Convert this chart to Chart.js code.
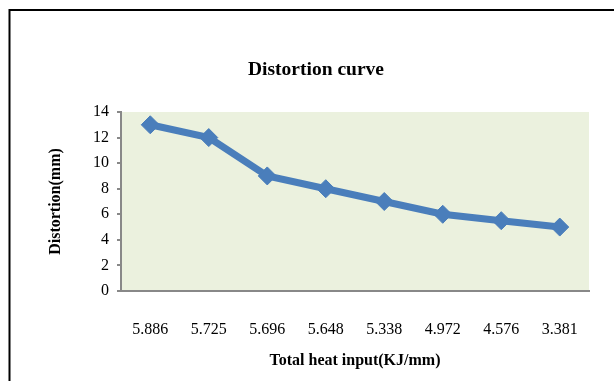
<!DOCTYPE html>
<html>
<head>
<meta charset="utf-8">
<title>Distortion curve</title>
<script src="https://cdn.jsdelivr.net/npm/chart.js@4.4.1/dist/chart.umd.min.js"></script>
<style>
  html, body { margin: 0; padding: 0; background: #fff; }
  canvas { display: block; }
</style>
</head>
<body>
<canvas id="distortionChart" width="614" height="381"></canvas>
<script>
// heat input per run (KJ/mm) and measured distortion (mm)
const heatInputs = ['5.886', '5.725', '5.696', '5.648', '5.338', '4.972', '4.576', '3.381'];
const distortion = [13, 12, 9, 8, 7, 6, 5.5, 5];
const yTicks = [0, 2, 4, 6, 8, 10, 12, 14];

const serif = '"Liberation Serif", "Times New Roman", serif';

// frame, plot background and the chart heading
const framePlugin = {
    id: 'frame',
    beforeDraw(chart) {
        const { ctx, chartArea } = chart;
        ctx.save();
        ctx.fillStyle = '#ffffff';
        ctx.fillRect(0, 0, chart.width, chart.height);
        ctx.fillStyle = '#EBF1DE';
        ctx.fillRect(chartArea.left, chartArea.top, chartArea.right - chartArea.left, chartArea.bottom - chartArea.top);
        ctx.strokeStyle = '#000';
        ctx.lineWidth = 2;
        ctx.beginPath();
        ctx.moveTo(chart.width + 2, 10);
        ctx.lineTo(9.5, 10);
        ctx.lineTo(9.5, chart.height + 2);
        ctx.stroke();
        ctx.restore();
    },
    afterDraw(chart) {
        const ctx = chart.ctx;
        ctx.save();
        ctx.fillStyle = '#000';
        ctx.font = 'bold 19.5px ' + serif;
        ctx.textAlign = 'center';
        ctx.textBaseline = 'middle';
        ctx.fillText('Distortion curve', 316, 70);
        ctx.restore();
    }
};

new Chart(document.getElementById('distortionChart'), {
    type: 'line',
    data: {
        labels: heatInputs,
        datasets: [{
            data: distortion,
            borderColor: '#4A7EBB',
            backgroundColor: '#4A7EBB',
            borderWidth: 7,
            pointStyle: 'rectRot',
            pointRadius: 9,
            pointBorderWidth: 1,
            tension: 0
        }]
    },
    options: {
        responsive: false,
        animation: false,
        layout: { padding: { left: 18, right: 25, top: 112, bottom: 0 } },
        plugins: {
            legend: { display: false },
            tooltip: { enabled: false }
        },
        scales: {
            x: {
                offset: true,
                grid: { display: false },
                border: { display: true, color: '#888888', width: 2 },
                ticks: { color: '#000', font: { family: serif, size: 16 }, padding: 21.4, maxRotation: 0 },
                title: {
                    display: true,
                    text: 'Total heat input(KJ/mm)',
                    color: '#000',
                    font: { family: serif, size: 16, weight: 'bold' },
                    padding: { top: 0, bottom: 10.4 }
                },
                afterFit: (scale) => { scale.height = 90; }
            },
            y: {
                min: 0,
                max: 14,
                afterBuildTicks: (scale) => { scale.ticks = yTicks.map(v => ({ value: v })); },
                grid: { drawOnChartArea: false, drawTicks: true, tickLength: 4, color: '#888888', lineWidth: 2 },
                border: { display: true, color: '#888888', width: 2 },
                ticks: { color: '#000', font: { family: serif, size: 16 }, padding: 8 },
                title: {
                    display: true,
                    text: 'Distortion(mm)',
                    color: '#000',
                    font: { family: serif, size: 16, weight: 'bold' },
                    padding: { top: 28.4, bottom: 0 }
                },
                afterFit: (scale) => { scale.width = 103; }
            }
        }
    },
    plugins: [framePlugin]
});
</script>
</body>
</html>
